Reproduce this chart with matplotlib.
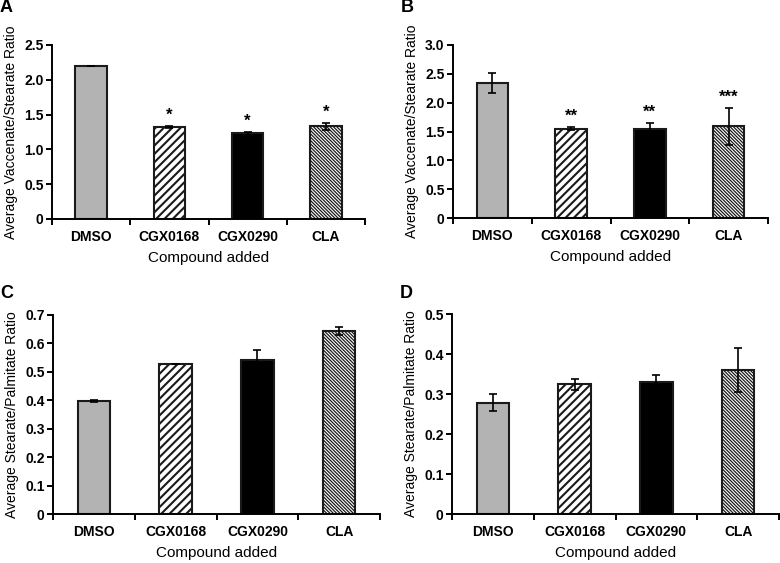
import matplotlib
matplotlib.use("Agg")
import matplotlib.pyplot as plt
from matplotlib.ticker import FixedLocator, FuncFormatter

plt.rcParams["font.family"] = ["Liberation Sans", "DejaVu Sans"]

compounds = ["DMSO", "CGX0168", "CGX0290", "CLA"]

# panel A: vaccenate/stearate
a_mean = [2.20, 1.32, 1.23, 1.33]
a_err = [0.0, 0.01, 0.02, 0.05]
a_star = ["", "*", "*", "*"]
# panel B: vaccenate/stearate
b_mean = [2.34, 1.55, 1.55, 1.59]
b_err = [0.18, 0.02, 0.10, 0.32]
b_star = ["", "**", "**", "***"]
# panel C: stearate/palmitate
c_mean = [0.397, 0.528, 0.542, 0.643]
c_err = [0.004, 0.0, 0.034, 0.015]
# panel D: stearate/palmitate
d_mean = [0.278, 0.324, 0.331, 0.360]
d_err = [0.021, 0.014, 0.016, 0.055]

# fill, hatch, hatch linewidth per compound
styles = [("#b3b3b3", "", 1.0), ("white", "////", 1.5), ("black", "", 1.0),
          ("white", "\\" * 10, 0.9)]

W, H = 780, 563
fig = plt.figure(figsize=(W / 100, H / 100), dpi=100, facecolor="white")


def box(l, r, t, b):
    return [l / W, 1 - b / H, (r - l) / W, (b - t) / H]


def panel(rect, letter, mean, err, ymax, ystep, ylabel, stars=None):
    ax = fig.add_axes(box(*rect))
    x = [i + 0.5 for i in range(len(compounds))]
    for i, (fc, hatch, hlw) in enumerate(styles):
        with plt.rc_context({"hatch.linewidth": hlw, "hatch.color": "black"}):
            ax.bar(x[i], mean[i], width=0.4, color=fc, hatch=hatch,
                   edgecolor="#1a1a1a", linewidth=1.5, zorder=2)
    ax.errorbar(x, mean, yerr=err, fmt="none", ecolor="black", elinewidth=1.2,
                capsize=3.2, capthick=1.2, zorder=3)
    if stars:
        for xi, m, e, s in zip(x, mean, err, stars):
            if s:
                ax.annotate(s, (xi, m + e), xytext=(0, 2.5), textcoords="offset points",
                            ha="center", va="bottom", fontsize=12, fontweight="bold")
    ax.set_xlim(0, 4)
    ax.set_ylim(0, ymax)
    n = int(round(ymax / ystep))
    ax.yaxis.set_major_locator(FixedLocator([k * ystep for k in range(n + 1)]))
    ax.yaxis.set_major_formatter(FuncFormatter(lambda v, p: "0" if abs(v) < 1e-9 else f"{v:.1f}"))
    ax.xaxis.set_major_locator(FixedLocator([0, 1, 2, 3, 4]))
    ax.xaxis.set_minor_locator(FixedLocator(x))
    ax.set_xticklabels([], minor=False)
    ax.set_xticklabels(compounds, minor=True)
    ax.tick_params(axis="x", which="major", direction="out", length=4, width=1.4)
    ax.tick_params(axis="x", which="minor", length=0, pad=8)
    ax.tick_params(axis="y", direction="out", length=4, width=1.4, pad=2)
    for lab in ax.get_xticklabels(minor=True) + ax.get_yticklabels():
        lab.set_fontsize(10)
        lab.set_fontweight("bold")
    for s in ("top", "right"):
        ax.spines[s].set_visible(False)
    for s in ("left", "bottom"):
        ax.spines[s].set_linewidth(1.4)
    l, r, t, b = rect
    ax.set_ylabel(ylabel, fontsize=10)
    ax.yaxis.set_label_coords(-41 / (r - l), 0.5)
    ax.yaxis.label.set_va("center")
    ax.set_xlabel("Compound added", fontsize=11)
    ax.xaxis.set_label_coords(0.5, -39 / (b - t))
    ax.xaxis.label.set_va("center")
    fig.text((l - 52 + 6) / W, 1 - 8 / H if t < 100 else 1 - 294 / H, letter,
             fontsize=13, fontweight="bold", ha="center", va="center")
    return ax


panel((52, 365, 45, 219), "A", a_mean, a_err, 2.5, 0.5,
      "Average Vaccenate/Stearate Ratio", a_star)
panel((453, 768, 45, 218), "B", b_mean, b_err, 3.0, 0.5,
      "Average Vaccenate/Stearate Ratio", b_star)
panel((53, 380, 315, 514), "C", c_mean, c_err, 0.7, 0.1,
      "Average Stearate/Palmitate Ratio")
panel((452, 779, 314, 514), "D", d_mean, d_err, 0.5, 0.1,
      "Average Stearate/Palmitate Ratio")

fig.savefig("out.png", dpi=100, facecolor="white")
